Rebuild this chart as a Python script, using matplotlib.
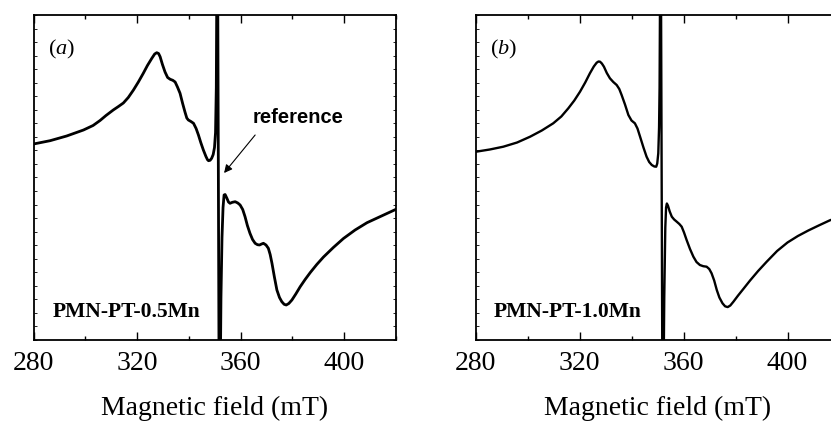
import numpy as np
import matplotlib
matplotlib.use("Agg")
import matplotlib.pyplot as plt
from matplotlib.ticker import MultipleLocator, FixedLocator

plt.rcParams['font.family'] = ['Liberation Serif', 'DejaVu Serif']
plt.rcParams['mathtext.fontset'] = 'custom'
plt.rcParams['mathtext.rm'] = 'Liberation Serif'
plt.rcParams['mathtext.it'] = 'Liberation Serif:italic'

# ---- data (EPR derivative spectra, arbitrary units) ----
field_a = [280, 286.4, 292.8, 299.3, 303.0, 305.7, 308.0, 310.8, 312.8, 314.7,
           316.6, 318.6, 320.5, 322.4, 324.0, 325.7, 326.8, 327.6, 328.3, 328.9,
           329.8, 330.8, 331.8, 332.8, 333.8, 334.7, 335.6, 336.6, 337.6, 338.5,
           339.2, 339.8, 340.8, 341.8, 342.8, 343.7, 344.6, 345.6, 346.6, 347.2,
           347.6, 348.2, 348.8, 349.4, 349.9, 350.3, 350.6, 351.0, 351.8, 352.4,
           352.8, 353.2, 353.6, 354.0, 354.7, 355.3, 355.9, 356.8, 357.9, 358.9,
           359.8, 360.8, 361.7, 362.6, 363.6, 364.6, 365.6, 366.5, 367.3, 368.1,
           368.8, 369.8, 370.7, 371.4, 372.1, 373.0, 374.0, 375.0, 375.9, 376.8,
           377.6, 378.6, 379.8, 381.3, 383.0, 384.9, 386.9, 389.4, 392.0, 395.8,
           399.7, 404.2, 408.8, 414.4, 420]
signal_a = [0.335, 0.368, 0.415, 0.475, 0.520, 0.570, 0.620, 0.675, 0.710, 0.745,
            0.800, 0.875, 0.955, 1.042, 1.120, 1.192, 1.235, 1.248, 1.240, 1.208,
            1.130, 1.055, 1.000, 0.982, 0.972, 0.955, 0.905, 0.842, 0.740, 0.655,
            0.595, 0.575, 0.560, 0.542, 0.490, 0.425, 0.350, 0.275, 0.210, 0.178,
            0.168, 0.172, 0.192, 0.230, 0.300, 0.450, 0.900, 3.000, -3.000, -1.200,
            -0.600, -0.300, -0.175, -0.170, -0.208, -0.245, -0.258, -0.248, -0.242, -0.255,
            -0.275, -0.320, -0.392, -0.480, -0.558, -0.620, -0.658, -0.672, -0.675, -0.665,
            -0.658, -0.675, -0.708, -0.770, -0.858, -0.990, -1.125, -1.200, -1.242, -1.268,
            -1.275, -1.260, -1.225, -1.165, -1.092, -1.020, -0.950, -0.870, -0.795, -0.700,
            -0.610, -0.525, -0.452, -0.385, -0.318]

field_b = [280.2, 285.5, 290.7, 296.0, 301.0, 305.5, 309.9, 313.0, 315.7, 318.0,
           320.2, 322.2, 324.0, 325.5, 326.6, 327.3, 327.9, 328.6, 329.4, 330.5,
           331.7, 333.0, 334.3, 335.3, 336.2, 337.5, 338.8, 340.0, 341.3, 342.3,
           343.3, 344.6, 345.8, 346.8, 347.8, 348.8, 349.5, 349.9, 350.3, 350.6,
           350.8, 351.2, 352.0, 352.6, 353.0, 353.3, 353.6, 354.0, 354.7, 355.5,
           356.4, 357.4, 358.4, 359.3, 360.2, 361.2, 362.5, 363.8, 365.0, 366.3,
           367.6, 368.9, 369.9, 370.8, 371.8, 372.8, 373.8, 375.0, 376.0, 377.0,
           378.0, 379.2, 381.0, 383.0, 385.6, 388.7, 392.0, 396.0, 400.0, 404.0,
           408.0, 412.0, 416.3, 420]
signal_b = [0.258, 0.280, 0.308, 0.350, 0.408, 0.470, 0.542, 0.610, 0.692, 0.770,
            0.858, 0.950, 1.042, 1.110, 1.148, 1.160, 1.158, 1.140, 1.108, 1.045,
            0.992, 0.955, 0.925, 0.885, 0.825, 0.730, 0.625, 0.570, 0.542, 0.490,
            0.408, 0.300, 0.208, 0.155, 0.125, 0.110, 0.108, 0.140, 0.242, 0.500,
            0.900, 3.000, -3.000, -1.200, -0.500, -0.300, -0.260, -0.280, -0.340, -0.392,
            -0.420, -0.442, -0.465, -0.492, -0.550, -0.625, -0.715, -0.792, -0.845, -0.875,
            -0.887, -0.892, -0.915, -0.958, -1.030, -1.125, -1.200, -1.258, -1.288, -1.296,
            -1.280, -1.242, -1.180, -1.115, -1.030, -0.935, -0.842, -0.735, -0.650, -0.585,
            -0.530, -0.480, -0.428, -0.395]

panel_letters = ['a', 'b']
sample_names = ['PMN-PT-0.5Mn', 'PMN-PT-1.0Mn']
xticks_major = [280, 320, 360, 400]
xlabel = 'Magnetic field (mT)'
ref_label = 'reference'

W, H = 831, 423
fig = plt.figure(figsize=(W / 100, H / 100), dpi=100)
ax_a = fig.add_axes([33.5 / W, (H - 340) / H, 362.5 / W, 325 / H])
ax_b = fig.add_axes([475.5 / W, (H - 340) / H, 364 / W, 325 / H])

ylo, yhi = -1.625, 1.625
for ax, fx, sy, letter, name, lw, tx in [
        (ax_a, field_a, signal_a, panel_letters[0], sample_names[0], 2.0, 0.258),
        (ax_b, field_b, signal_b, panel_letters[1], sample_names[1], 1.7, 0.253)]:
    ax.plot(fx, sy, color='black', lw=lw, solid_joinstyle='round',
            solid_capstyle='round')
    ax.set_xlim(280, 420)
    ax.set_ylim(ylo, yhi)
    ax.xaxis.set_major_locator(FixedLocator(xticks_major))
    ax.xaxis.set_minor_locator(MultipleLocator(20))
    ax.yaxis.set_major_locator(FixedLocator(np.linspace(ylo, yhi, 25)))
    ax.tick_params(axis='x', which='major', direction='in', length=6, width=1.0,
                   top=True, bottom=True, labelsize=20, pad=8)
    ax.tick_params(axis='x', which='minor', direction='in', length=3, width=1.0,
                   top=True, bottom=True)
    ax.tick_params(axis='y', which='major', direction='in', length=2, width=0.6,
                   left=True, right=True, labelleft=False)
    for sp in ax.spines.values():
        sp.set_linewidth(1.3)
    ax.set_xlabel(xlabel, fontsize=20, labelpad=14)
    ax.text(0.077, 0.893, '($' + letter + '$)', transform=ax.transAxes,
            fontsize=16, ha='center', va='center')
    ax.text(tx, 0.085, name, transform=ax.transAxes, fontsize=15.5,
            fontweight='bold', ha='center', va='center')

ax_a.text(364.6, 0.60, ref_label, fontsize=14.5, fontweight='bold',
          family=['Liberation Sans', 'DejaVu Sans'], ha='left', va='center')
ax_a.annotate('', xy=(353.6, 0.045), xytext=(365.6, 0.425),
              arrowprops=dict(arrowstyle='-|>', color='black', lw=0.8,
                              mutation_scale=12, shrinkA=0, shrinkB=0))

fig.savefig('out.png', dpi=100)
